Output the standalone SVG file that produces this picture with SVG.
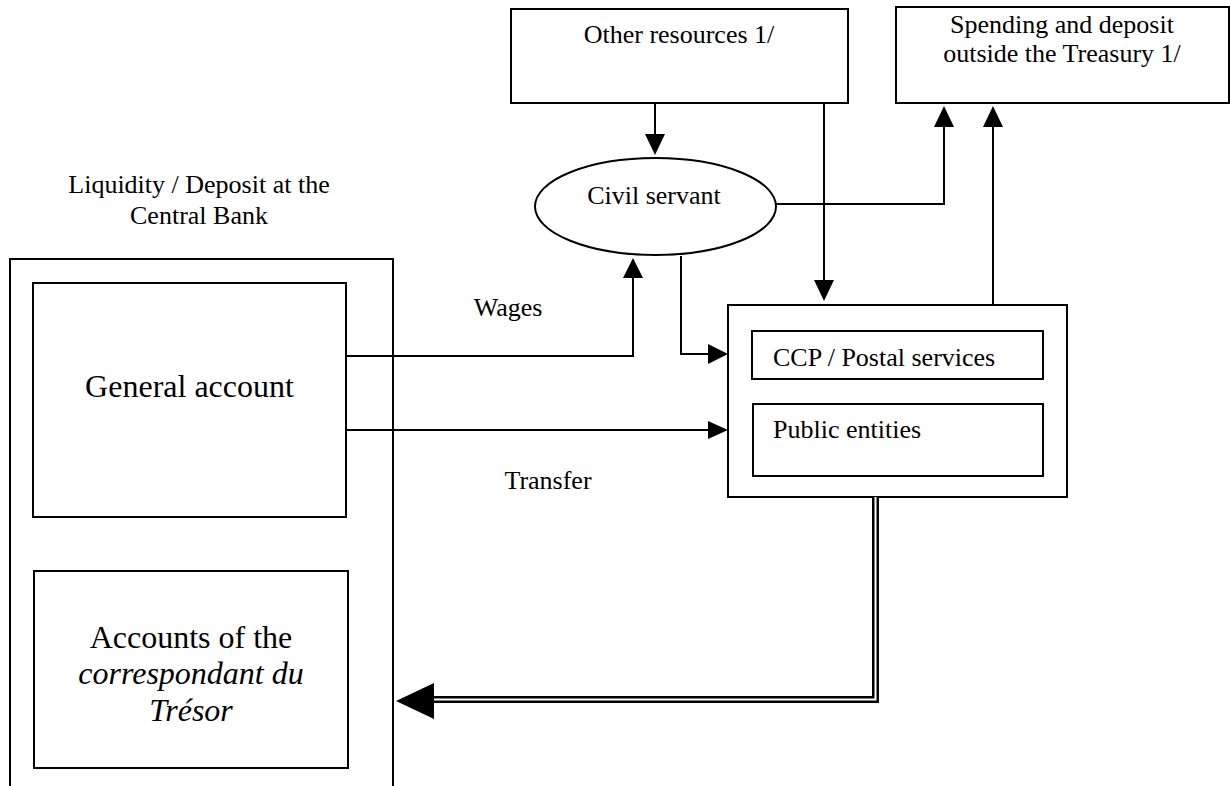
<svg xmlns="http://www.w3.org/2000/svg" width="1230" height="786" viewBox="0 0 1230 786">
<style>
.box{fill:none;stroke:#000;stroke-width:2}
.ln{fill:none;stroke:#000;stroke-width:2}
.t{font-family:"Liberation Serif","Times New Roman",serif;font-size:26px;fill:#000}
.big{font-family:"Liberation Serif","Times New Roman",serif;font-size:32px;fill:#000}
.c{text-anchor:middle}
.ah{fill:#000}
</style>
<rect width="1230" height="786" fill="#fff"/>

<g id="liquidity-label">
<text class="t c" x="199" y="193">Liquidity / Deposit at the</text>
<text class="t c" x="199" y="224">Central Bank</text>
</g>

<g id="central-bank">
<rect class="box" x="10" y="259" width="383" height="540"/>
</g>

<g id="general-account">
<rect class="box" x="33" y="283" width="313" height="234"/>
<text class="big c" x="189.5" y="397">General account</text>
</g>

<g id="correspondant-accounts">
<rect class="box" x="34" y="571" width="314" height="197"/>
<text class="big c" x="191" y="648">Accounts of the</text>
<text class="big c" x="191" y="684" font-style="italic">correspondant du</text>
<text class="big c" x="191" y="721" font-style="italic">Trésor</text>
</g>

<g id="other-resources">
<rect class="box" x="511" y="9" width="337" height="94"/>
<text class="t c" x="679" y="43">Other resources 1/</text>
</g>

<g id="spending-outside">
<rect class="box" x="896" y="7" width="333" height="96"/>
<text class="t c" x="1062" y="33">Spending and deposit</text>
<text class="t c" x="1062" y="62">outside the Treasury 1/</text>
</g>

<g id="civil-servant">
<ellipse class="box" cx="655.5" cy="206.5" rx="120.5" ry="48.5"/>
<text class="t c" x="654" y="204">Civil servant</text>
</g>

<g id="ccp-public">
<rect class="box" x="728" y="305" width="339" height="192"/>
<rect class="box" x="752" y="331" width="291" height="48"/>
<text class="t" x="773" y="366">CCP / Postal services</text>
<rect class="box" x="753" y="404" width="290" height="72"/>
<text class="t" x="773" y="438">Public entities</text>
</g>

<g id="connectors">
<!-- Other resources -> Civil servant -->
<path class="ln" d="M655 103 V136"/>
<polygon class="ah" points="645,134 665,134 655,155"/>
<!-- Other resources -> CCP box -->
<path class="ln" d="M824 103 V282"/>
<polygon class="ah" points="814,280 834,280 824,301"/>
<!-- Civil servant -> Spending -->
<path class="ln" d="M776 204 H944 V126"/>
<polygon class="ah" points="934,127 954,127 944,106"/>
<!-- CCP box -> Spending -->
<path class="ln" d="M993 305 V126"/>
<polygon class="ah" points="983,127 1003,127 993,106"/>
<!-- Wages: General account -> Civil servant -->
<path class="ln" d="M346 356 H633 V277"/>
<polygon class="ah" points="623,278 643,278 633,258"/>
<text class="t c" x="508" y="316">Wages</text>
<!-- Civil servant -> CCP -->
<path class="ln" d="M681 256 V354 H710"/>
<polygon class="ah" points="708,344 708,364 728,354"/>
<!-- Transfer: General account -> Public entities -->
<path class="ln" d="M346 430 H710"/>
<polygon class="ah" points="708,421 708,439 728,430"/>
<text class="t c" x="548" y="489">Transfer</text>
<!-- Double line back to correspondant accounts -->
<path d="M875.5 497 V699.5 H430" fill="none" stroke="#000" stroke-width="7"/>
<path d="M875.5 497 V699.5 H430" fill="none" stroke="#fff" stroke-width="2"/>
<polygon class="ah" points="396,701 434,683 434,719"/>
</g>
</svg>
